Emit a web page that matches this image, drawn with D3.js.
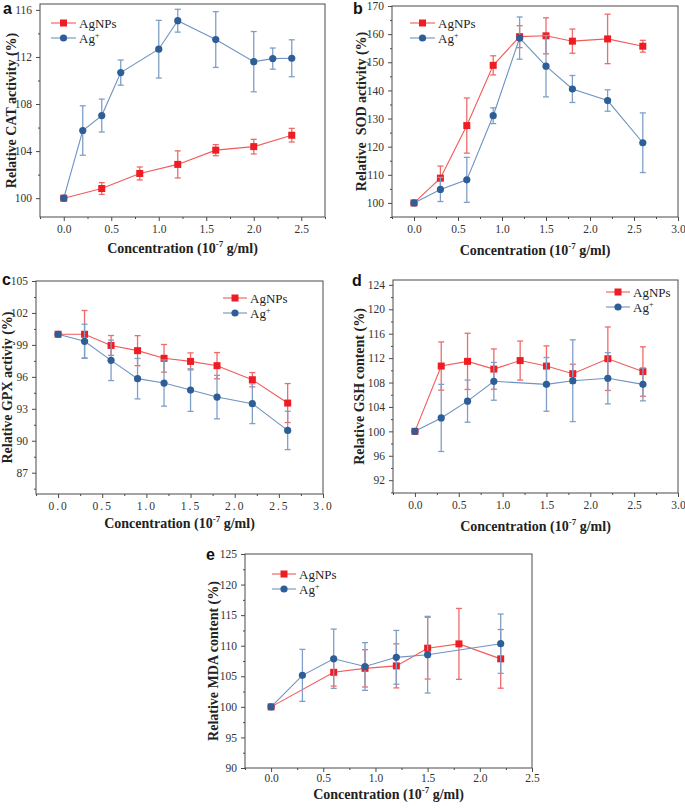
<!DOCTYPE html>
<html><head><meta charset="utf-8">
<script src="https://cdn.jsdelivr.net/npm/d3@7"></script>
<style>
body{margin:0;background:#fff}
svg{display:block}
text{font-family:"Liberation Serif","Times New Roman",serif}
text.plabel{font-family:"Liberation Sans",Arial,sans-serif}
</style>
</head><body>
<svg id="chart" width="685" height="808"></svg>
<script>
// ---------- DATA ----------
const seriesNames = ["AgNPs", "Ag+"];

// a: CAT
const catX_AgNPs = [0, 0.4, 0.8, 1.2, 1.6, 2.0, 2.4];
const catY_AgNPs = [100, 100.82, 102.1, 102.87, 104.08, 104.38, 105.35];
const catE_AgNPs = [0.1, 0.5, 0.55, 1.15, 0.47, 0.62, 0.58];
const catX_Ag = [0, 0.2, 0.4, 0.6, 1.0, 1.2, 1.6, 2.0, 2.2, 2.4];
const catY_Ag = [100, 105.75, 107.02, 110.67, 112.66, 115.08, 113.48, 111.6, 111.86, 111.89];
const catE_Ag = [0.1, 2.1, 1.4, 1.07, 2.45, 0.97, 2.37, 2.56, 0.9, 1.57];

// b: SOD
const sodX_AgNPs = [0, 0.3, 0.6, 0.9, 1.2, 1.5, 1.8, 2.2, 2.6];
const sodY_AgNPs = [100, 108.8, 127.5, 148.9, 159.1, 159.4, 157.5, 158.3, 155.7];
const sodE_AgNPs = [0.3, 4.3, 9.8, 3.4, 3.9, 6.4, 4.3, 8.8, 2.1];
const sodX_Ag = [0, 0.3, 0.6, 0.9, 1.2, 1.5, 1.8, 2.2, 2.6];
const sodY_Ag = [100, 104.8, 108.2, 131.0, 158.6, 148.6, 140.5, 136.4, 121.4];
const sodE_Ag = [0.3, 4.3, 8.0, 2.8, 7.5, 10.9, 4.8, 3.8, 10.6];

// c: GPX
const gpxX_AgNPs = [0, 0.3, 0.6, 0.9, 1.2, 1.5, 1.8, 2.2, 2.6];
const gpxY_AgNPs = [100, 100, 98.95, 98.46, 97.74, 97.45, 97.05, 95.73, 93.54];
const gpxE_AgNPs = [0.15, 2.23, 0.93, 1.41, 1.3, 0.8, 1.23, 0.67, 1.83];
const gpxX_Ag = [0, 0.3, 0.6, 0.9, 1.2, 1.5, 1.8, 2.2, 2.6];
const gpxY_Ag = [100, 99.34, 97.55, 95.83, 95.42, 94.76, 94.1, 93.48, 90.97];
const gpxE_Ag = [0.1, 1.6, 1.9, 1.9, 2.17, 2.0, 2.04, 1.87, 1.8];

// d: GSH
const gshX_AgNPs = [0, 0.3, 0.6, 0.9, 1.2, 1.5, 1.8, 2.2, 2.6];
const gshY_AgNPs = [100, 110.7, 111.47, 110.2, 111.6, 110.7, 109.45, 111.9, 109.8];
const gshE_AgNPs = [0, 3.95, 4.6, 3.3, 3.2, 3.3, 1.55, 5.2, 4.05];
const gshX_Ag = [0, 0.3, 0.6, 0.9, 1.5, 1.8, 2.2, 2.6];
const gshY_Ag = [100, 102.2, 104.95, 108.2, 107.7, 108.3, 108.7, 107.7];
const gshE_Ag = [0, 5.5, 3.45, 3.1, 4.4, 6.7, 4.2, 2.7];

// e: MDA
const mdaX_AgNPs = [0, 0.6, 0.9, 1.2, 1.5, 1.8, 2.2];
const mdaY_AgNPs = [100, 105.65, 106.3, 106.7, 109.6, 110.3, 107.85];
const mdaE_AgNPs = [0, 2.25, 3.05, 3.6, 5.05, 5.8, 4.8];
const mdaX_Ag = [0, 0.3, 0.6, 0.9, 1.2, 1.5, 2.2];
const mdaY_Ag = [100, 105.15, 107.87, 106.6, 108.1, 108.53, 110.33];
const mdaE_Ag = [0, 4.25, 4.85, 3.9, 4.4, 6.27, 4.85];

// tick values
const xTicks25 = [0, 0.5, 1.0, 1.5, 2.0, 2.5];
const xTicks30 = [0, 0.5, 1.0, 1.5, 2.0, 2.5, 3.0];
const catYTicks = [100, 104, 108, 112, 116];
const sodYTicks = [100, 110, 120, 130, 140, 150, 160, 170];
const gpxYTicks = [87, 90, 93, 96, 99, 102, 105];
const gshYTicks = [92, 96, 100, 104, 108, 112, 116, 120, 124];
const mdaYTicks = [90, 95, 100, 105, 110, 115, 120, 125];

// ---------- STYLE ----------
const RED = "#ee1d23", RED_LINE = "#f25a5a", RED_ERR = "#f06a6a";
const BLUE = "#2e5e97", BLUE_LINE = "#6d93c2", BLUE_ERR = "#7f9fc8";
const FRAME = "#4a4a4a";

const svg = d3.select("#chart");

function zip(xs, ys, es) { return xs.map((x, i) => ({x, y: ys[i], e: es[i]})); }

const panels = [
  {letter: "a", lp: [3, 14], l: 40, r: 325, t: 4, b: 217, xd: [-0.25, 2.75], yd: [98.4, 116.5],
   xt: xTicks25, xminor: 0.25, yt: catYTicks, yminor: 2, fmtY: d3.format("d"), pad: 4,
   ytitle: "Relative CAT activity (%)", ytx: 11, xty: 253,
   legend: {x: 51, y: 23, w: 25},
   s1: zip(catX_AgNPs, catY_AgNPs, catE_AgNPs), s2: zip(catX_Ag, catY_Ag, catE_Ag)},
  {letter: "b", lp: [353, 14], l: 392, r: 678, t: 6, b: 217, xd: [-0.25, 3.0], yd: [95, 170],
   xt: xTicks30, xminor: 0.25, yt: sodYTicks, yminor: 5, fmtY: d3.format("d"), pad: 4,
   ytitle: "Relative  SOD activity (%)", ytx: 361, xty: 255,
   legend: {x: 410, y: 23, w: 25},
   s1: zip(sodX_AgNPs, sodY_AgNPs, sodE_AgNPs), s2: zip(sodX_Ag, sodY_Ag, sodE_Ag)},
  {letter: "c", lp: [2, 285], l: 36, r: 323, t: 281, b: 494, xd: [-0.25, 3.0], yd: [85, 105],
   xt: xTicks30, xminor: 0.25, yt: gpxYTicks, yminor: 1.5, fmtY: d3.format("d"), spaced: true, pad: 4,
   ytitle: "Relative GPX activiy (%)", ytx: 7, xty: 528,
   legend: {x: 223, y: 298, w: 24},
   s1: zip(gpxX_AgNPs, gpxY_AgNPs, gpxE_AgNPs), s2: zip(gpxX_Ag, gpxY_Ag, gpxE_Ag)},
  {letter: "d", lp: [352, 286], l: 393, r: 678, t: 280, b: 493, xd: [-0.25, 3.0], yd: [89.9, 124.8],
   xt: xTicks30, xminor: 0.25, yt: gshYTicks, yminor: 2, fmtY: d3.format("d"), pad: 4,
   ytitle: "Relative GSH content (%)", ytx: 359, xty: 531,
   legend: {x: 606, y: 292, w: 24},
   s1: zip(gshX_AgNPs, gshY_AgNPs, gshE_AgNPs), s2: zip(gshX_Ag, gshY_Ag, gshE_Ag)},
  {letter: "e", lp: [206, 560], l: 245, r: 532, t: 554, b: 768, xd: [-0.25, 2.5], yd: [90, 125],
   xt: xTicks25, xminor: 0.25, yt: mdaYTicks, yminor: 2.5, fmtY: d3.format("d"), pad: 2,
   ytitle: "Relative MDA content (%)", ytx: 213, xty: 799,
   legend: {x: 272, y: 574, w: 24},
   s1: zip(mdaX_AgNPs, mdaY_AgNPs, mdaE_AgNPs), s2: zip(mdaX_Ag, mdaY_Ag, mdaE_Ag)}
];

function minorVals(domain, step, majors) {
  const out = [];
  const start = Math.ceil(domain[0] / step - 1e-9) * step;
  for (let v = start; v <= domain[1] + 1e-9; v += step) {
    const r = Math.round(v * 1000) / 1000;
    if (!majors.some(m => Math.abs(m - r) < 1e-6)) out.push(r);
  }
  return out;
}

function drawSeries(g, x, y, data, lineC, errC, markC, shape) {
  const eb = g.append("g");
  data.forEach(d => {
    if (!d.e) return;
    const cx = x(d.x), y1 = y(d.y + d.e), y2 = y(d.y - d.e);
    eb.append("line").attr("x1", cx).attr("x2", cx).attr("y1", y1).attr("y2", y2)
      .attr("stroke", errC).attr("stroke-width", 1.3);
    [y1, y2].forEach(yy => eb.append("line").attr("x1", cx - 3).attr("x2", cx + 3)
      .attr("y1", yy).attr("y2", yy).attr("stroke", errC).attr("stroke-width", 1.3));
  });
  g.append("path").datum(data)
    .attr("d", d3.line().x(d => x(d.x)).y(d => y(d.y)))
    .attr("fill", "none").attr("stroke", lineC).attr("stroke-width", 1.1);
  data.forEach(d => drawMarker(g, x(d.x), y(d.y), markC, shape));
}

function drawMarker(g, cx, cy, c, shape) {
  if (shape === "sq") {
    g.append("rect").attr("x", cx - 3.5).attr("y", cy - 3.5).attr("width", 7).attr("height", 7).attr("fill", c);
  } else {
    g.append("circle").attr("cx", cx).attr("cy", cy).attr("r", 3.6).attr("fill", c);
  }
}

panels.forEach(p => {
  const g = svg.append("g");
  const x = d3.scaleLinear().domain(p.xd).range([p.l, p.r]);
  const y = d3.scaleLinear().domain(p.yd).range([p.b, p.t]);

  g.append("rect").attr("x", p.l).attr("y", p.t).attr("width", p.r - p.l).attr("height", p.b - p.t)
    .attr("fill", "none").attr("stroke", FRAME).attr("stroke-width", 1);

  const fmtX = d3.format(".1f");
  const xa = g.append("g").attr("transform", `translate(0,${p.b})`)
    .call(d3.axisBottom(x).tickValues(p.xt).tickSize(4).tickSizeOuter(0).tickPadding(p.pad).tickFormat(fmtX));
  const xm = g.append("g").attr("transform", `translate(0,${p.b})`)
    .call(d3.axisBottom(x).tickValues(minorVals(p.xd, p.xminor, p.xt)).tickSize(2).tickSizeOuter(0).tickFormat(""));
  const ya = g.append("g").attr("transform", `translate(${p.l},0)`)
    .call(d3.axisLeft(y).tickValues(p.yt).tickSize(4).tickSizeOuter(0).tickPadding(4).tickFormat(p.fmtY));
  const ym = g.append("g").attr("transform", `translate(${p.l},0)`)
    .call(d3.axisLeft(y).tickValues(minorVals(p.yd, p.yminor, p.yt)).tickSize(2).tickSizeOuter(0).tickFormat(""));
  [xa, xm, ya, ym].forEach(a => {
    a.attr("font-family", null);
    a.select(".domain").remove();
    a.selectAll("line").attr("stroke", FRAME);
    a.selectAll("text").attr("font-size", 11.5).attr("fill", "#333");
  });
  if (p.spaced) xa.selectAll("text").attr("letter-spacing", "2px");

  drawSeries(g, x, y, p.s1, RED_LINE, RED_ERR, RED, "sq");
  drawSeries(g, x, y, p.s2, BLUE_LINE, BLUE_ERR, BLUE, "ci");

  const xt = g.append("text").attr("x", (p.l + p.r) / 2).attr("y", p.xty).attr("text-anchor", "middle")
    .attr("font-weight", "bold").attr("font-size", 14).attr("fill", "#222");
  xt.append("tspan").text("Concentration (10");
  xt.append("tspan").attr("font-size", 9).attr("dy", -6).text("-7");
  xt.append("tspan").attr("dy", 6).text(" g/ml)");

  g.append("text").attr("transform", `translate(${p.ytx},${(p.t + p.b) / 2}) rotate(-90)`)
    .attr("dy", "0.35em").attr("text-anchor", "middle").attr("font-weight", "bold")
    .attr("font-size", 14).attr("fill", "#222").style("white-space", "pre").text(p.ytitle);

  g.append("text").attr("class", "plabel").attr("x", p.lp[0]).attr("y", p.lp[1]).text(p.letter)
    .attr("font-weight", "bold").attr("font-size", 16).attr("fill", "#111");

  const L = p.legend;
  [[RED_LINE, RED, "sq", 0], [BLUE_LINE, BLUE, "ci", 15]].forEach(([lc, mc, sh, dy], i) => {
    g.append("line").attr("x1", L.x).attr("x2", L.x + L.w).attr("y1", L.y + dy).attr("y2", L.y + dy)
      .attr("stroke", lc).attr("stroke-width", 1.1);
    drawMarker(g, L.x + L.w / 2, L.y + dy, mc, sh);
    const t = g.append("text").attr("x", L.x + L.w + 3).attr("y", L.y + dy).attr("dy", "0.35em")
      .attr("font-size", 13).attr("fill", "#222");
    if (i === 0) t.text(seriesNames[0]);
    else { t.append("tspan").text("Ag"); t.append("tspan").attr("font-size", 8).attr("dy", -5).text("+"); }
  });
});
</script>
</body></html>
